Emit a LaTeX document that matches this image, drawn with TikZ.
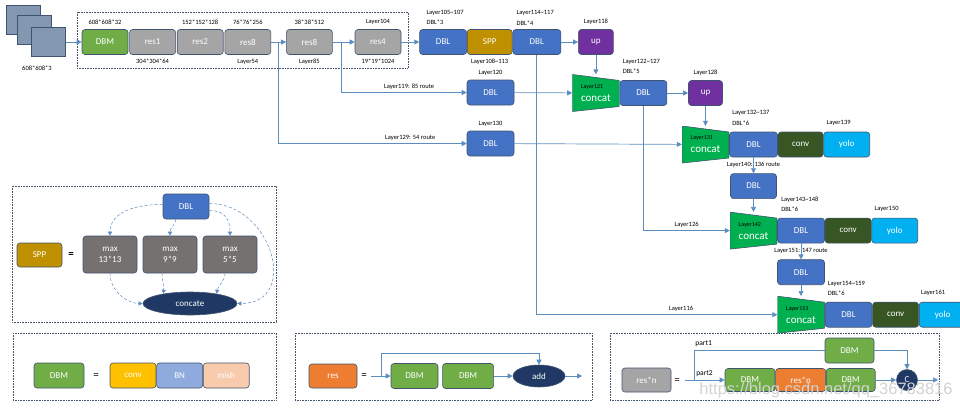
\documentclass[tikz,border=0pt]{standalone}
\usepackage{fontspec}
\setmainfont{Carlito}
\newfontfamily\markfont{Liberation Sans}
\usetikzlibrary{arrows.meta,positioning,shapes.geometric}

\definecolor{edgec}{HTML}{41546F}
\definecolor{linec}{HTML}{5B8DBF}
\definecolor{framec}{HTML}{44546A}
\definecolor{dbmc}{HTML}{70AD47}
\definecolor{resc}{HTML}{A5A5A5}
\definecolor{dblc}{HTML}{4472C4}
\definecolor{sppc}{HTML}{BF9000}
\definecolor{upc}{HTML}{7030A0}
\definecolor{catc}{HTML}{00B050}
\definecolor{convc}{HTML}{375623}
\definecolor{yoloc}{HTML}{00B0F0}
\definecolor{maxc}{HTML}{767171}
\definecolor{navyc}{HTML}{1F3864}
\definecolor{orangec}{HTML}{ED7D31}
\definecolor{yelc}{HTML}{FFC000}
\definecolor{bnc}{HTML}{8FAADC}
\definecolor{mishc}{HTML}{F8CBAD}
\definecolor{inc}{HTML}{8497B0}

\newcommand\laytag[1]{{\fontsize{6}{7}\selectfont\color{black}#1}}

\tikzset{
  blk/.style={draw=edgec,line width=0.6pt,rounded corners=3pt,minimum width=46pt,
    minimum height=25pt,inner sep=0pt,text=white,font=\fontsize{9}{10}\selectfont},
  dbmbox/.style={blk,fill=dbmc},
  resbox/.style={blk,fill=resc},
  dblbox/.style={blk,fill=dblc},
  sppbox/.style={blk,fill=sppc},
  upbox/.style={blk,fill=upc,minimum width=35pt},
  convbox/.style={blk,fill=convc},
  yolobox/.style={blk,fill=yoloc},
  maxbox/.style={blk,fill=maxc,minimum width=54pt,minimum height=37pt,align=center,
    font=\fontsize{9}{11}\selectfont},
  oval/.style={ellipse,draw=edgec,line width=0.6pt,fill=navyc,text=white,inner sep=0pt,
    font=\fontsize{9}{10}\selectfont},
  catbox/.style={fill=white,minimum width=47pt,minimum height=37pt,inner sep=0pt,
    align=left,text=white,font=\fontsize{11}{13}\selectfont,
    path picture={\filldraw[fill=catc,draw=edgec,line width=0.6pt]
      (path picture bounding box.north west)
      -- ([yshift=-6pt]path picture bounding box.north east)
      -- ([yshift=5pt]path picture bounding box.south east)
      -- (path picture bounding box.south west) -- cycle;}},
  inbox/.style={draw=edgec,line width=0.6pt,fill=inc,minimum width=34pt,
    minimum height=29pt,inner sep=0pt},
  lbl/.style={font=\fontsize{6.5}{7}\selectfont,inner sep=1pt},
  twolbl/.style={font=\fontsize{6.5}{10.5}\selectfont,align=left,inner sep=1pt},
  partlbl/.style={font=\fontsize{7.5}{8}\selectfont,inner sep=1pt},
  eqsign/.style={font=\fontsize{11}{11}\selectfont,inner sep=0pt},
  link/.style={draw=linec,line width=0.7pt,-{Triangle[length=5pt,width=5pt]}},
  wire/.style={draw=linec,line width=0.7pt},
  dlink/.style={draw=linec,densely dashed,line width=0.5pt,-{Triangle[length=4pt,width=4pt]}},
  frame/.style={draw=framec,densely dotted,line width=0.6pt},
}

\begin{document}
\begin{tikzpicture}[x=1pt,y=-1pt,label distance=3pt]
  \useasboundingbox (0,0) rectangle (960,410);

  % dotted frames
  \draw[frame] (77,12) rectangle (408,68);
  \draw[frame] (12,186) rectangle (276,322);
  \draw[frame] (13,333) rectangle (276,400);
  \draw[frame] (295,333) rectangle (592,400);
  \draw[frame] (610,333) rectangle (939,400);

  % input image
  \node[inbox] (in1) at (23,19.5) {};
  \node[inbox] (in2) at (34.5,30) {};
  \node[inbox] (in3) at (48.5,42) {};
  \node[lbl] (insz) at (37,68) {608*608*3};

  % backbone
  \node[dbmbox,label={[lbl]above:608*608*32}] (dbm) at (105,42) {DBM};
  \node[resbox,right=1pt of dbm,label={[lbl]below:304*304*64}] (r1) {res1};
  \node[resbox,right=1pt of r1,label={[lbl]above:152*152*128}] (r2) {res2};
  \node[resbox,right=1pt of r2,label={[lbl]above:76*76*256},label={[lbl]below:Layer54}] (r3) {res8};
  \node[resbox,right=15pt of r3,label={[lbl]above:38*38*512},label={[lbl]below:Layer85}] (r4) {res8};
  \node[resbox,right=22pt of r4,label={[lbl]above:Layer104},label={[lbl]below:19*19*1024}] (r5) {res4};

  % neck
  \node[dblbox,right=18pt of r5,minimum width=47pt] (l1) {DBL};
  \node[sppbox,right=0pt of l1,minimum width=45pt,label={[lbl]below:Layer108\textasciitilde113}] (spp) {SPP};
  \node[dblbox,right=0pt of spp,minimum width=48pt] (l2) {DBL};
  \node[twolbl,above right=3pt and 6pt of l1.north west] (t1) {Layer105\textasciitilde107\\DBL*3};
  \node[twolbl,above right=3pt and 3pt of l2.north west] (t2) {Layer114\textasciitilde117\\DBL*4};
  \node[upbox,right=17pt of l2,label={[lbl]above:Layer118}] (up1) {up};
  \node[catbox,below=19.5pt of up1] (cc1) {\laytag{Layer121}\\concat};
  \node[dblbox,right=0pt of cc1,minimum width=47pt] (l4) {DBL};
  \node[twolbl,above right=5pt and 2pt of l4.north west] (t4) {Layer122\textasciitilde127\\DBL*5};
  \node[upbox,right=21pt of l4,minimum width=34pt,label={[lbl]above:Layer128}] (up2) {up};
  \node[dblbox,minimum width=47pt,label={[lbl]above:Layer120}] (l3) at (490.5,92.5) {DBL};
  \node[dblbox,minimum width=47pt,label={[lbl]above:Layer130}] (l5) at (490.5,143.5) {DBL};

  % head 1
  \node[catbox,below=20pt of up2] (cc2) {\laytag{Layer131}\\concat};
  \node[dblbox,right=0pt of cc2,minimum width=48pt] (l6) {DBL};
  \node[convbox,right=0pt of l6,minimum width=45pt] (cv1) {conv};
  \node[yolobox,right=0pt of cv1] (y1) {yolo};
  \node[twolbl,above right=5pt and 2pt of l6.north west] (t6) {Layer132\textasciitilde137\\DBL*6};
  \node[lbl,above right=5pt and 2pt of y1.north west] (t6y) {Layer139};

  % head 2
  \node[dblbox,below=16pt of l6] (l7) {DBL};
  \node[catbox,below=13pt of l7] (cc3) {\laytag{Layer142}\\concat};
  \node[dblbox,right=0pt of cc3,minimum width=47pt] (l8) {DBL};
  \node[convbox,right=0pt of l8] (cv2) {conv};
  \node[yolobox,right=0pt of cv2] (y2) {yolo};
  \node[twolbl,above right=5pt and 3pt of l8.north west] (t8) {Layer143\textasciitilde148\\DBL*6};
  \node[lbl,above right=5pt and 2pt of y2.north west] (t8y) {Layer150};

  % head 3
  \node[dblbox,below=16pt of l8,minimum width=47pt] (l9) {DBL};
  \node[catbox,below=11pt of l9] (cc4) {\laytag{Layer153}\\concat};
  \node[dblbox,right=0pt of cc4,minimum width=47pt] (l10) {DBL};
  \node[convbox,right=0pt of l10] (cv3) {conv};
  \node[yolobox,right=0pt of cv3,minimum width=47pt] (y3) {yolo};
  \node[twolbl,above right=5pt and 2pt of l10.north west] (t10) {Layer154\textasciitilde159\\DBL*6};
  \node[lbl,above right=5pt and 1pt of y3.north west] (t10y) {Layer161};

  % main connectors
  \draw[link] (in3) -- (dbm);
  \draw[link] (r3) -- (r4);
  \draw[link] (r4) -- (r5);
  \draw[link] (r5) -- (l1);
  \draw[link] (l2) -- (up1);
  \draw[link] (up1) -- (cc1);
  \draw[link] (l3) -- (cc1);
  \draw[link] (l4) -- (up2);
  \draw[link] (up2) -- (cc2);
  \draw[link] (l5) -- (cc2);
  \draw[link] (l6) -- (l7) node[midway,lbl] {Layer140: 136 route};
  \draw[link] (l7) -- (cc3);
  \draw[link] (l8) -- (l9) node[midway,lbl] {Layer151: 147 route};
  \draw[link] (l9) -- (cc4);
  \path (r3.east) -- (r4.west) coordinate[pos=0.5] (b1);
  \path (r4.east) -- (r5.west) coordinate[pos=0.4] (b2);
  \draw[link] (b1) |- (l5) node[pos=0.85,above=2pt,lbl] {Layer129: 54 route};
  \draw[link] (b2) |- (l3) node[pos=0.77,above=2pt,lbl] {Layer119: 85 route};
  \draw[link] (l4) |- (cc3) node[pos=0.75,above=2pt,lbl] {Layer126};
  \draw[link] (l2) |- (cc4) node[pos=0.8,above=2pt,lbl] {Layer116};

  % SPP detail
  \node[sppbox,minimum width=45pt,minimum height=24pt] (sk) at (39.5,255) {SPP};
  \node[eqsign,font=\fontsize{11}{11}\selectfont\bfseries] (eq1) at (71,255) {=};
  \node[dblbox] (sd) at (186,206.5) {DBL};
  \node[maxbox] (m1) at (110,254.5) {max\\13*13};
  \node[maxbox] (m2) at (170,254.5) {max\\9*9};
  \node[maxbox] (m3) at (230,254.5) {max\\5*5};
  \node[oval,minimum width=94pt,minimum height=23pt] (ce) at (190,303.5) {concate};
  \draw[dlink] ([yshift=2pt]sd.west) .. controls +(-35,0) and +(0,-20) .. (m1.north);
  \draw[dlink] ([xshift=-10pt]sd.south) .. controls +(-2,8) and +(0,-8) .. (m2.north);
  \draw[dlink] ([yshift=-4pt]sd.east) .. controls +(16,0) and +(0,-16) .. (m3.north);
  \draw[dlink] ([yshift=3pt]sd.east) .. controls +(63,0) and +(63,0) .. (ce.east);
  \draw[dlink] (m1.south) .. controls +(0,18) and +(-15,0) .. (ce.west);
  \draw[dlink] ([xshift=-8pt]m2.south) .. controls +(0,8) and +(1,-8) .. (ce.160);
  \draw[dlink] ([xshift=-5pt]m3.south) .. controls +(0,8) and +(1,-8) .. (ce.20);

  % DBM detail
  \node[dbmbox,minimum width=50pt] (dk) at (59,375.5) {DBM};
  \node[eqsign] (eq2) at (96,376) {=};
  \node[blk,fill=yelc] (cv) at (133,375.5) {conv};
  \node[blk,fill=bnc,right=0pt of cv] (bn) {BN};
  \node[blk,fill=mishc,right=0pt of bn] (mi) {mish};

  % res detail
  \node[blk,fill=orangec,minimum width=48pt,minimum height=24pt] (rs) at (333,376) {res};
  \node[eqsign] (eq3) at (364,376) {=};
  \node[dbmbox,minimum width=47pt] (d1) at (414.5,376) {DBM};
  \node[dbmbox,minimum width=51pt,right=4pt of d1] (d2) {DBM};
  \node[oval,minimum width=52pt,minimum height=22pt] (ad) at (539,376) {add};
  \coordinate (rsin) at (371,376);
  \coordinate (rsj) at (381,376);
  \coordinate (rsout) at (582,376);
  \draw[link] (rsin) -- (d1);
  \draw[link] (rsj) -- ++(0,-23) -| (ad.north);
  \draw[link] (d2) -- (ad);
  \draw[link] (ad) -- (rsout);

  % res*n detail
  \node[resbox,minimum width=49pt,minimum height=24pt] (rn) at (646.5,380) {res*n};
  \node[eqsign] (eq4) at (677,381) {=};
  \node[dbmbox,minimum width=50pt,minimum height=23pt] (p1) at (750,380) {DBM};
  \node[blk,fill=orangec,minimum width=50pt,minimum height=23pt,right=0pt of p1] (p2) {res*n};
  \node[dbmbox,minimum width=49pt,minimum height=23pt,right=0pt of p2] (p3) {DBM};
  \node[dbmbox,minimum width=49pt] (pt) at (849.5,350.5) {DBM};
  \node[circle,fill=navyc,draw=edgec,line width=0.6pt,text=white,minimum size=21pt,
    inner sep=0pt,font=\fontsize{9}{10}\selectfont] (cn) at (907,380) {C};
  \coordinate (pin) at (685,380);
  \coordinate (pj) at (694,380);
  \coordinate (pout) at (938,380);
  \draw[link] (pin) -- (p1) node[pos=0.25,anchor=south west,yshift=2pt,partlbl] {part2};
  \draw[wire] (pj) |- (pt) node[pos=0.5,anchor=south west,yshift=2pt,partlbl] {part1};
  \draw[link] (pt) -| (cn);
  \draw[link] (p3) -- (cn);
  \draw[link] (cn) -- (pout);

  % watermark
  \node[font=\markfont\fontsize{16.5}{17}\selectfont,text=gray!35] (wm) at (826,390)
    {https://blog.csdn.net/qq\_36783816};
\end{tikzpicture}
\end{document}
